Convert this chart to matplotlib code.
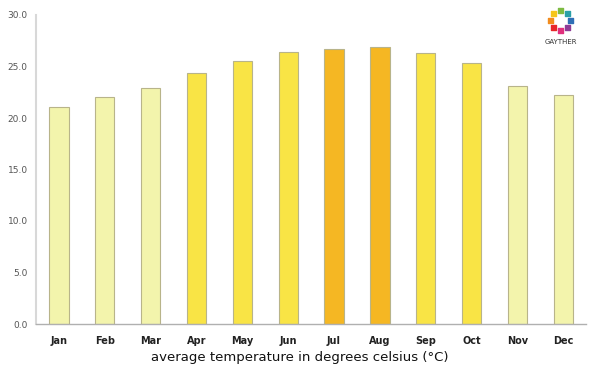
import numpy as np
import matplotlib.pyplot as plt

months = ['Jan', 'Feb', 'Mar', 'Apr', 'May', 'Jun', 'Jul', 'Aug', 'Sep', 'Oct', 'Nov', 'Dec']
temps = [21.1, 22.0, 22.9, 24.4, 25.5, 26.4, 26.7, 26.9, 26.3, 25.3, 23.1, 22.2]
yticks = [0, 5, 10, 15, 20, 25, 30]

pale, yellow, orange = '#f3f4ac', '#f9e445', '#f5b723'
colors = [pale, pale, pale, yellow, yellow, yellow, orange, orange, yellow, yellow, pale, pale]

fig = plt.figure(figsize=(6, 3.75), dpi=100)
ax = fig.add_axes([0.06, 0.136, 0.917, 0.824])

x = np.arange(len(months))
ax.bar(x, temps, width=0.42, color=colors, edgecolor='#b8b48a', linewidth=0.8, zorder=2)

ax.set_xlim(-0.5, len(months) - 0.5)
ax.set_ylim(0, 30)
ax.set_yticks(yticks)
ax.set_yticklabels([f'{v:.1f}' for v in yticks], fontsize=6.5, color='#555555')
ax.set_xticks(x)
ax.set_xticklabels(months, fontsize=7, color='#222222', fontweight='semibold')
ax.tick_params(length=0, pad=6)
ax.tick_params(axis='x', pad=9)

for s in ['top', 'right']:
    ax.spines[s].set_visible(False)
ax.spines['left'].set_color('#d8d8d8')
ax.spines['left'].set_linewidth(1.5)
ax.spines['bottom'].set_color('#b0b0b0')
ax.spines['bottom'].set_linewidth(1)

fig.text(0.5, 0.048, 'average temperature in degrees celsius (\u00b0C)', ha='center',
         va='center', fontsize=9.5, color='#111111')

# logo
ring = ['#7dbb42', '#2aa0a8', '#2f6fb5', '#8e3b96', '#e0307d', '#e8262a', '#f28c1e', '#f5c518']
ang = np.linspace(np.pi / 2, np.pi / 2 - 2 * np.pi, len(ring), endpoint=False)
lax = fig.add_axes([0.9, 0.9, 0.068, 0.09])
lax.scatter(np.cos(ang), np.sin(ang), s=12, c=ring, marker='s')
lax.set_xlim(-2.0, 2.0)
lax.set_ylim(-1.7, 1.7)
lax.axis('off')
fig.text(0.935, 0.888, 'GAYTHER', ha='center', va='center', fontsize=5, color='#333333')

fig.savefig('out.png', dpi=100)
